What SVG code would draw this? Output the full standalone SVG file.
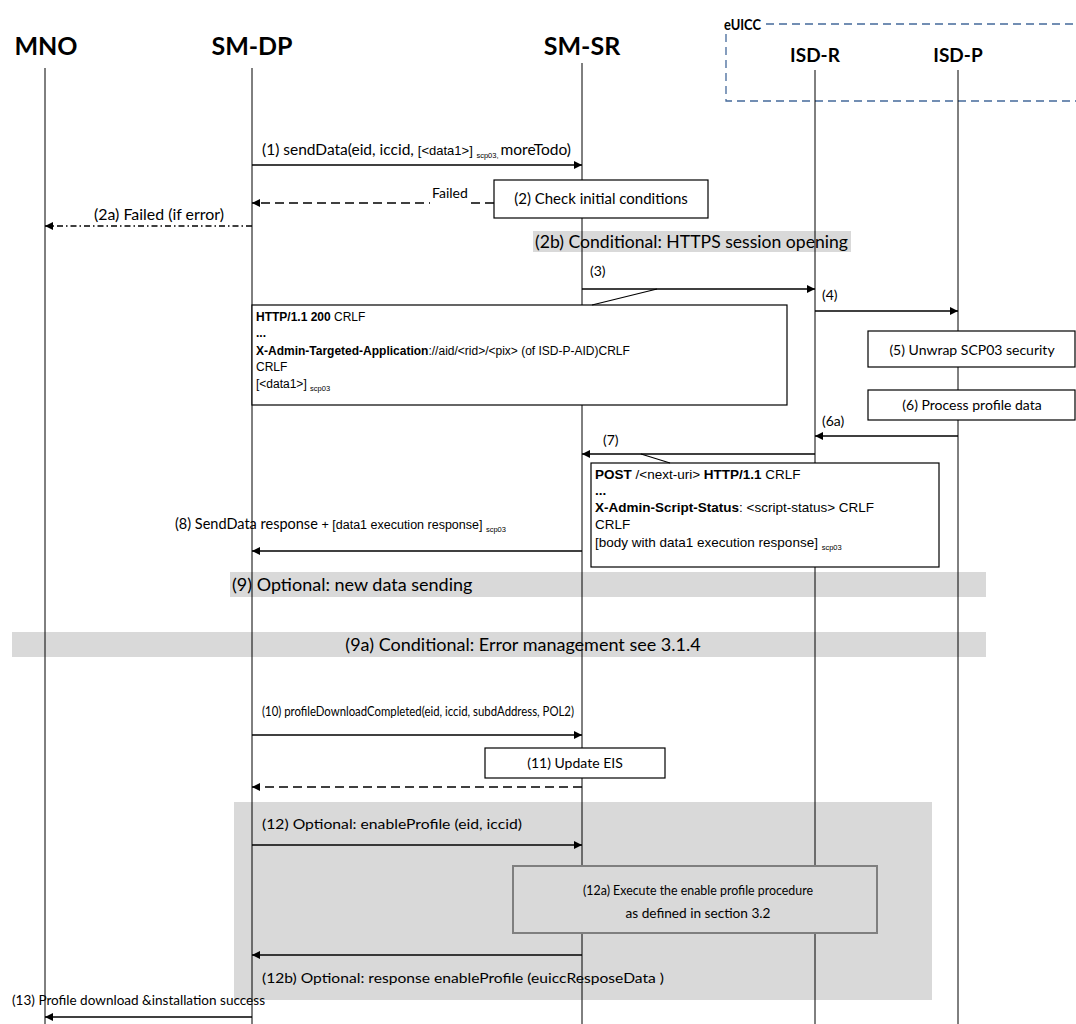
<svg xmlns="http://www.w3.org/2000/svg" width="1076" height="1024" viewBox="0 0 1076 1024">
<defs>
<marker id="ah" viewBox="0 0 10 10" refX="10" refY="5" markerWidth="8" markerHeight="8" markerUnits="userSpaceOnUse" orient="auto">
<path d="M0,0 L10,5 L0,10 z" fill="#000"/>
</marker>
</defs>
<style>
.hdr{font-family:Lato,"Open Sans",sans-serif;font-weight:bold;font-size:25px;fill:#000}
.hdr2{font-family:Lato,"Open Sans",sans-serif;font-weight:bold;font-size:19px;fill:#000}
.c{font-family:Lato,"Open Sans",sans-serif;font-size:14px;fill:#000}
.c15{font-family:Lato,"Open Sans",sans-serif;font-size:15px;fill:#000}
.c13{font-family:Lato,"Open Sans",sans-serif;font-size:13.5px;fill:#000}
.band{font-family:Lato,"Open Sans",sans-serif;font-size:18px;fill:#000}
.a{font-family:"Liberation Sans",Arial,sans-serif;font-size:12px;fill:#000}
.ab{font-family:"Liberation Sans",Arial,sans-serif;font-size:12px;font-weight:bold;fill:#000}
.a13{font-family:"Liberation Sans",Arial,sans-serif;font-size:13.5px;fill:#000}
.ab13{font-family:"Liberation Sans",Arial,sans-serif;font-size:13.5px;font-weight:bold;fill:#000}
.sub{font-family:"Liberation Sans",Arial,sans-serif;font-size:7.5px;fill:#000}
.life{stroke:#000;stroke-width:1;fill:none}
.msg{stroke:#000;stroke-width:1.5;fill:none;marker-end:url(#ah)}
.dash{stroke-dasharray:9,5}
.dashdot{stroke-dasharray:6,3,1.5,3}
.box{fill:#fff;stroke:#000;stroke-width:1.2}
.gray{fill:#d9d9d9;stroke:none}
</style>
<rect width="1076" height="1024" fill="#fff"/>

<g id="gray-bands">
<rect class="gray" x="533" y="231" width="318" height="21"/>
<rect class="gray" x="230" y="572" width="756" height="25"/>
<rect class="gray" x="12" y="632" width="974" height="25"/>
<rect class="gray" x="234" y="802" width="698" height="198"/>
</g>

<g id="euicc">
<text class="hdr2" x="724" y="30" style="font-size:16px" textLength="37" lengthAdjust="spacingAndGlyphs">eUICC</text>
<path d="M766,24 H1076 M726,34 V101 H1076" stroke="#44699a" stroke-width="1.3" stroke-dasharray="8,5" fill="none"/>
</g>

<g id="MNO"><text class="hdr" x="46" y="55" text-anchor="middle">MNO</text><line class="life" x1="45" y1="68" x2="45" y2="1024"/></g>
<g id="SM-DP"><text class="hdr" x="252" y="55" text-anchor="middle">SM-DP</text><line class="life" x1="252" y1="68" x2="252" y2="1024"/></g>
<g id="SM-SR"><text class="hdr" x="582" y="55" text-anchor="middle">SM-SR</text><line class="life" x1="582" y1="63" x2="582" y2="1024"/></g>
<g id="ISD-R"><text class="hdr2" x="815" y="62" text-anchor="middle">ISD-R</text><line class="life" x1="815" y1="70" x2="815" y2="1024" stroke="#555"/></g>
<g id="ISD-P"><text class="hdr2" x="958" y="62" text-anchor="middle">ISD-P</text><line class="life" x1="958" y1="70" x2="958" y2="1024"/></g>

<g id="n2"><rect class="box" x="494" y="180" width="214" height="38"/><text class="c15" x="601" y="204" text-anchor="middle">(2) Check initial conditions</text></g>
<g id="n2b"><text class="band" x="535" y="248" textLength="313" lengthAdjust="spacingAndGlyphs">(2b) Conditional: HTTPS session opening</text></g>

<g id="http-resp">
<rect class="box" x="252" y="305" width="535" height="100"/>
<text x="256" y="321"><tspan class="ab">HTTP/1.1 200</tspan><tspan class="a"> CRLF</tspan></text>
<text class="ab" x="256" y="337">...</text>
<text x="256" y="355"><tspan class="ab">X-Admin-Targeted-Application</tspan><tspan class="a">://aid/&lt;rid&gt;/&lt;pix&gt;  (of ISD-P-AID)CRLF</tspan></text>
<text class="a" x="256" y="371">CRLF</text>
<text x="256" y="388"><tspan class="a">[&lt;data1&gt;] </tspan><tspan class="sub" dy="3">scp03</tspan></text>
</g>

<g id="n5"><rect class="box" x="868" y="331" width="207" height="36"/><text class="c" x="972" y="355" text-anchor="middle">(5) Unwrap SCP03 security</text></g>
<g id="n6"><rect class="box" x="868" y="390" width="207" height="30"/><text class="c" x="972" y="410" text-anchor="middle">(6) Process profile data</text></g>

<g id="post-req">
<rect class="box" x="591" y="463" width="348" height="104"/>
<text x="595" y="479"><tspan class="ab13">POST</tspan><tspan class="a13"> /&lt;next-uri&gt; </tspan><tspan class="ab13">HTTP/1.1</tspan><tspan class="a13"> CRLF</tspan></text>
<text class="ab13" x="595" y="495">...</text>
<text x="595" y="512"><tspan class="ab13">X-Admin-Script-Status</tspan><tspan class="a13">: &lt;script-status&gt; CRLF</tspan></text>
<text class="a13" x="595" y="529">CRLF</text>
<text x="595" y="547"><tspan class="a13">[body with data1 execution response] </tspan><tspan class="sub" dy="3">scp03</tspan></text>
</g>

<g id="n9"><text class="band" x="232" y="591">(9) Optional: new data sending</text></g>
<g id="n9a"><text class="band" x="523" y="651" text-anchor="middle">(9a) Conditional: Error management see 3.1.4</text></g>

<g id="n11"><rect class="box" x="485" y="748" width="180" height="30"/><text class="c" x="575" y="768" text-anchor="middle">(11) Update EIS</text></g>

<g id="n12a"><rect x="513" y="866" width="364" height="67" fill="#d9d9d9" stroke="#7f7f7f" stroke-width="2"/>
<text class="c" x="698" y="895" text-anchor="middle" textLength="230" lengthAdjust="spacingAndGlyphs">(12a) Execute the enable profile procedure</text>
<text class="c" x="698" y="918" text-anchor="middle" textLength="145" lengthAdjust="spacingAndGlyphs">as defined in section 3.2</text></g>

<g id="connectors">
<line class="msg" x1="252" y1="165" x2="582" y2="165"/>
<path class="msg dash" d="M494,203 H252"/>
<path class="msg dashdot" d="M252,226 H45"/>
<line class="msg" x1="582" y1="289" x2="815" y2="289"/>
<line stroke="#000" stroke-width="1.2" x1="657" y1="289" x2="592" y2="305"/>
<line class="msg" x1="815" y1="311" x2="958" y2="311"/>
<line class="msg" x1="958" y1="436" x2="815" y2="436"/>
<line class="msg" x1="815" y1="454" x2="582" y2="454"/>
<line stroke="#000" stroke-width="1.2" x1="641" y1="454" x2="670" y2="463"/>
<line class="msg" x1="582" y1="551" x2="252" y2="551"/>
<line class="msg" x1="252" y1="735" x2="582" y2="735"/>
<path class="msg dash" d="M582,787 H252"/>
<line class="msg" x1="252" y1="845" x2="582" y2="845"/>
<line class="msg" x1="582" y1="955" x2="252" y2="955"/>
<line class="msg" x1="252" y1="1017" x2="45" y2="1017"/>
</g>

<g id="labels">
<text x="262" y="155"><tspan class="c15" style="font-size:15.5px">(1) sendData(eid, iccid, </tspan><tspan class="a" style="font-size:13px">[&lt;data1&gt;] </tspan><tspan class="sub" dy="3">scp03, </tspan><tspan class="c15" style="font-size:15.5px" dy="-3">moreTodo)</tspan></text>
<rect x="430" y="186" width="40" height="20" fill="#fff"/>
<text class="c" x="432" y="198">Failed</text>
<text class="c15" x="94" y="220" textLength="130" lengthAdjust="spacingAndGlyphs">(2a) Failed (if error)</text>
<text class="c" x="590" y="276">(3)</text>
<text class="c" x="822" y="300">(4)</text>
<text class="c" x="822" y="426">(6a)</text>
<text class="c" x="603" y="445">(7)</text>
<text x="175" y="529"><tspan class="c15" style="font-size:14.5px">(8) SendData response </tspan><tspan class="a" style="font-size:12.5px">+ [data1 execution response] </tspan><tspan class="sub" dy="3">scp03</tspan></text>
<text class="c13" x="262" y="716" textLength="312" lengthAdjust="spacingAndGlyphs">(10) profileDownloadCompleted(eid, iccid, subdAddress, POL2)</text>
<text class="c" x="262" y="829" textLength="260" lengthAdjust="spacingAndGlyphs">(12) Optional: enableProfile (eid, iccid)</text>
<text class="c" x="262" y="983" textLength="402" lengthAdjust="spacingAndGlyphs">(12b) Optional: response enableProfile (euiccResposeData )</text>
<text class="c" x="12" y="1005" textLength="253" lengthAdjust="spacingAndGlyphs">(13) Profile download &amp;installation success</text>
</g>
</svg>
